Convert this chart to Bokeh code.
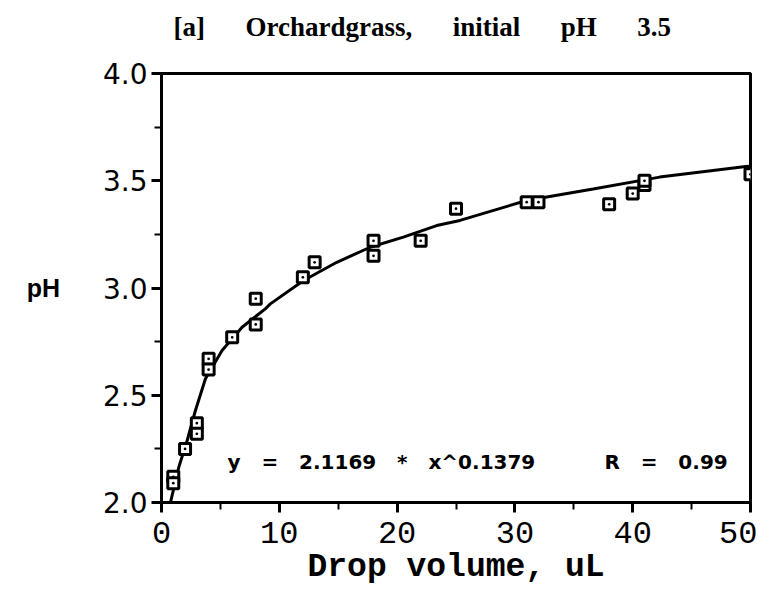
from bokeh.plotting import figure
from bokeh.models import Range1d, FixedTicker, NumeralTickFormatter, Label
from bokeh.embed import file_html
from bokeh.resources import INLINE

# ---- data ----
drop_volume = [1, 1, 2, 3, 3, 4, 4, 6, 8, 8, 12, 13, 18, 18, 22, 25, 31, 32, 38, 40, 41, 41, 50]
ph_measured = [2.12, 2.09, 2.25, 2.37, 2.32, 2.67, 2.62, 2.77, 2.83, 2.95, 3.05, 3.12,
               3.22, 3.15, 3.22, 3.37, 3.40, 3.40, 3.39, 3.44, 3.48, 3.50, 3.53]

curve_x = [0.76, 1.47, 2.18, 2.88, 3.73, 5.14, 6.84, 8.81, 9.24, 12.06, 14.88, 17.71,
           20.53, 23.36, 25.34, 30.99, 36.64, 42.29, 49.6, 50.0]
curve_y = [2.00, 2.165, 2.289, 2.429, 2.577, 2.709, 2.817, 2.903, 2.926, 3.035, 3.12, 3.19,
           3.237, 3.291, 3.315, 3.408, 3.462, 3.517, 3.566, 3.568]

x_ticks = [0, 10, 20, 30, 40, 50]
x_minor = [5, 15, 25, 35, 45]
y_ticks = [2.0, 2.5, 3.0, 3.5, 4.0]
y_minor = [2.25, 2.75, 3.25, 3.75]

NB = "\u00a0"
title_text = (NB * 6).join(["[a]", "Orchardgrass,", "initial", "pH", "3.5"])
fit_text = (NB * 3).join(["y", "=", "2.1169", "*", "x^0.1379"])
r_text = (NB * 3).join(["R", "=", "0.99"])

p = figure(width=757, height=592, output_backend="svg", toolbar_location=None,
           x_range=Range1d(0, 50), y_range=Range1d(2.0, 4.0),
           min_border_left=161, min_border_right=7, min_border_top=73, min_border_bottom=90)

p.grid.visible = False
p.outline_line_color = "black"
p.outline_line_width = 3
p.background_fill_color = "white"
p.border_fill_color = "white"

# a blank second line gives the title panel extra height, lifting the title text
p.title.text = title_text + "\n" + NB
p.title.text_font = "Liberation Serif"
p.title.text_font_style = "bold"
p.title.text_font_size = "27px"
p.title.text_color = "black"
p.title.align = "left"
p.title.offset = 12
p.title.vertical_align = "top"
p.title.standoff = 0

# axes
for ax in (p.xaxis[0], p.yaxis[0]):
    ax.axis_line_width = 3
    ax.axis_line_color = "black"
    ax.major_tick_line_width = 3
    ax.minor_tick_line_width = 2
    ax.major_tick_in = 0
    ax.major_tick_out = 10
    ax.minor_tick_in = 0
    ax.minor_tick_out = 7
    ax.major_label_text_color = "black"
    ax.axis_label_text_color = "black"

p.xaxis.ticker = FixedTicker(ticks=x_ticks, minor_ticks=x_minor)
p.yaxis.ticker = FixedTicker(ticks=y_ticks, minor_ticks=y_minor)
p.yaxis.formatter = NumeralTickFormatter(format="0.0")

p.xaxis.major_label_text_font = "Liberation Mono"
p.xaxis.major_label_text_font_size = "32px"
p.xaxis.major_label_standoff = 9
p.xaxis.axis_label = "Drop volume, uL"
p.xaxis.axis_label_text_font = "Liberation Mono"
p.xaxis.axis_label_text_font_style = "bold"
p.xaxis.axis_label_text_font_size = "33px"
p.xaxis.axis_label_standoff = 3

p.yaxis.major_label_text_font = "DejaVu Sans"
p.yaxis.major_label_text_font_size = "28px"
p.yaxis.major_label_standoff = 4
p.yaxis.axis_label = "pH"
p.yaxis.axis_label_orientation = "horizontal"
p.yaxis.axis_label_text_font = "Liberation Sans"
p.yaxis.axis_label_text_font_style = "bold"
p.yaxis.axis_label_text_font_size = "25px"
p.yaxis.axis_label_standoff = 40

# fitted curve and data points
p.line(curve_x, curve_y, line_color="black", line_width=3)
p.scatter(drop_volume, ph_measured, marker="square_dot", size=11,
          line_color="black", line_width=3, fill_color="white")

p.add_layout(Label(x=5.6, y=2.19, text=fit_text, text_font="DejaVu Sans",
                   text_font_style="bold", text_font_size="20px", text_color="black",
                   text_baseline="alphabetic"))
p.add_layout(Label(x=37.6, y=2.19, text=r_text, text_font="DejaVu Sans",
                   text_font_style="bold", text_font_size="20px", text_color="black",
                   text_baseline="alphabetic"))

open("out.html", "w").write(file_html(p, INLINE))
